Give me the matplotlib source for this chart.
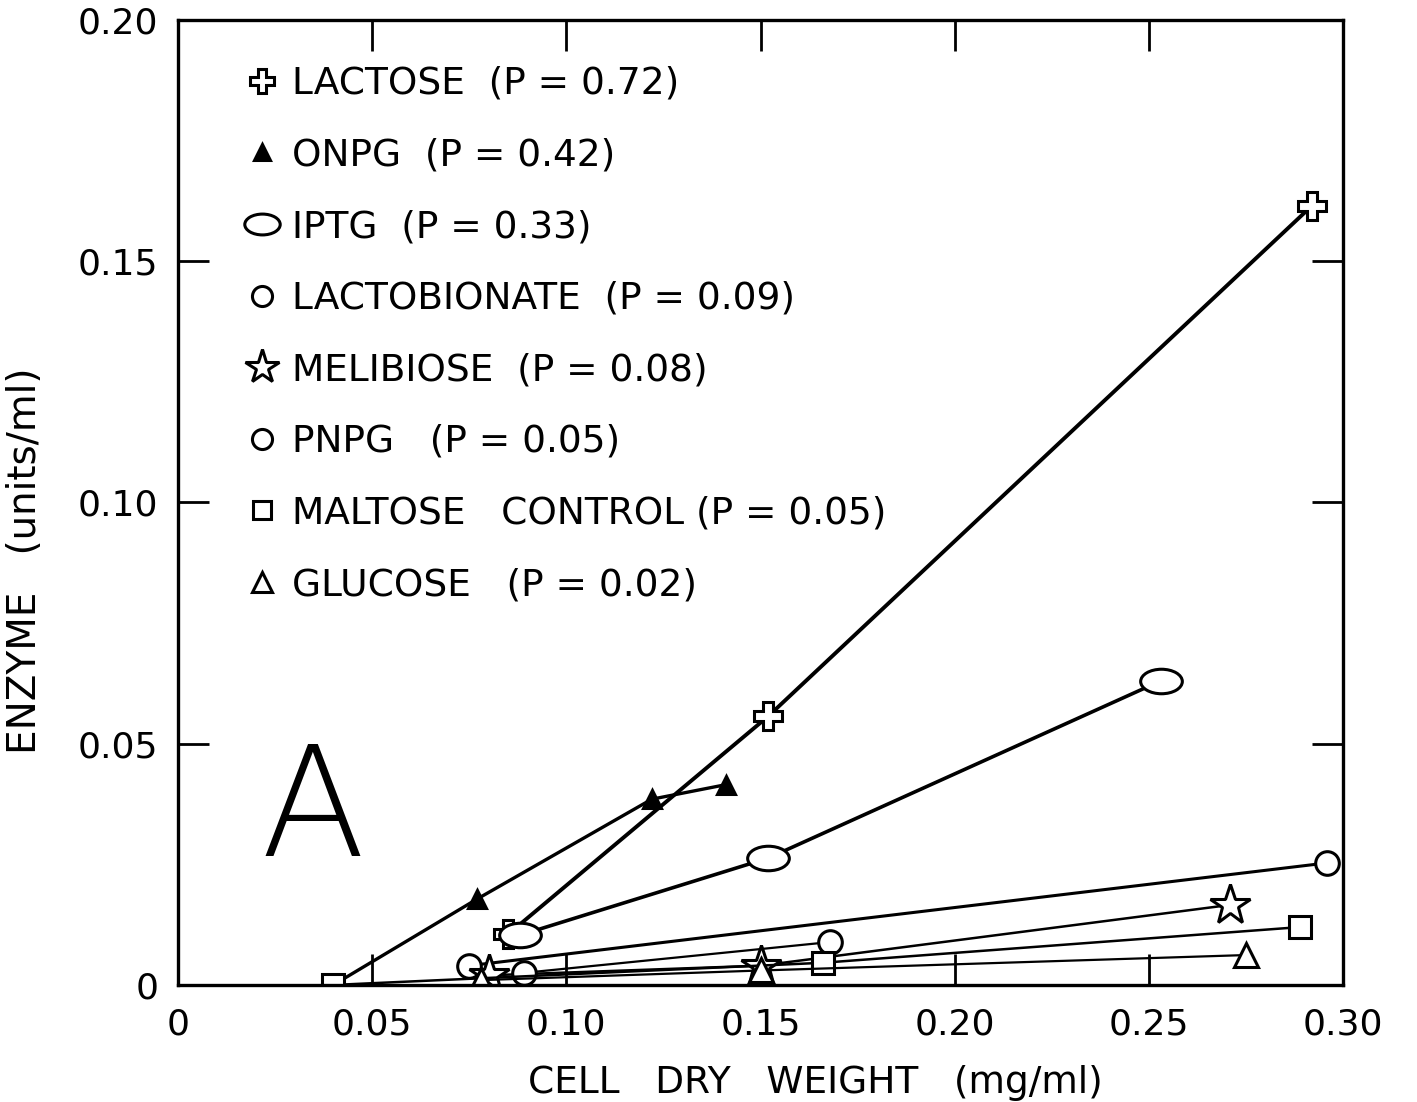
import matplotlib
matplotlib.use("Agg")
import matplotlib.pyplot as plt
from matplotlib.path import Path
from matplotlib.lines import Line2D
import numpy as np

plt.rcParams['font.family'] = ['DejaVu Sans']

# data (cell dry weight mg/ml -> enzyme units/ml)
lactose_x = [0.085, 0.152, 0.292]
lactose_y = [0.0105, 0.0557, 0.1615]

onpg_x = [0.040, 0.077, 0.122, 0.141]
onpg_y = [0.000, 0.0178, 0.0385, 0.0415]

iptg_x = [0.088, 0.152, 0.253]
iptg_y = [0.0103, 0.0263, 0.0630]

lactobionate_x = [0.075, 0.296]
lactobionate_y = [0.0040, 0.0253]

melibiose_x = [0.080, 0.150, 0.271]
melibiose_y = [0.0020, 0.0040, 0.0166]

pnpg_x = [0.089, 0.168]
pnpg_y = [0.0025, 0.0089]

maltose_x = [0.040, 0.166, 0.289]
maltose_y = [0.000, 0.0046, 0.0120]

glucose_x = [0.078, 0.150, 0.275]
glucose_y = [0.0010, 0.0030, 0.0062]

labels = ["LACTOSE  (P = 0.72)",
          "ONPG  (P = 0.42)",
          "IPTG  (P = 0.33)",
          "LACTOBIONATE  (P = 0.09)",
          "MELIBIOSE  (P = 0.08)",
          "PNPG   (P = 0.05)",
          "MALTOSE   CONTROL (P = 0.05)",
          "GLUCOSE   (P = 0.02)"]

x_ticks = [0, 0.05, 0.10, 0.15, 0.20, 0.25, 0.30]
x_ticklabels = ["0", "0.05", "0.10", "0.15", "0.20", "0.25", "0.30"]
y_ticks = [0, 0.05, 0.10, 0.15, 0.20]
y_ticklabels = ["0", "0.05", "0.10", "0.15", "0.20"]

# oval marker for IPTG
circ = Path.unit_circle()
oval = Path(circ.vertices * np.array([1.7, 1.0]), circ.codes)

fig = plt.figure(figsize=(14.17, 11.02), dpi=100)
ax = fig.add_axes([0.1256, 0.1062, 0.8222, 0.8757])

styles = [
    (lactose_x, lactose_y, dict(marker='P', ms=20, lw=2.8)),
    (onpg_x, onpg_y, dict(marker='^', ms=13, lw=2.4, mfc='black')),
    (iptg_x, iptg_y, dict(marker=oval, ms=30, lw=2.6)),
    (lactobionate_x, lactobionate_y, dict(marker='o', ms=17, lw=2.2)),
    (melibiose_x, melibiose_y, dict(marker='*', ms=30, lw=1.8)),
    (pnpg_x, pnpg_y, dict(marker='o', ms=17, lw=1.6)),
    (maltose_x, maltose_y, dict(marker='s', ms=16, lw=1.8)),
    (glucose_x, glucose_y, dict(marker='^', ms=17, lw=1.6)),
]

handles = []
for (xs, ys, st), lab in zip(styles, labels):
    kw = dict(color='black', mfc='white', mec='black', mew=2.2)
    kw.update(st)
    ax.plot(xs, ys, **kw)
    hkw = dict(kw)
    hkw['ms'] = kw['ms'] * 0.85
    handles.append(Line2D([], [], linestyle='none', **{k: v for k, v in hkw.items() if k != 'lw'}))

leg = ax.legend(handles, labels, loc='upper left', bbox_to_anchor=(0.045, 0.968),
                frameon=False, fontsize=27, labelspacing=0.95, handlelength=0.9,
                handletextpad=0.35, borderaxespad=0)

# big panel letter
ax.text(0.0348, 0.0355, "A", fontsize=110, fontweight='light', ha='center', va='center')

ax.set_xlim(0, 0.30)
ax.set_ylim(0, 0.20)
ax.set_xticks(x_ticks)
ax.set_xticklabels(x_ticklabels)
ax.set_yticks(y_ticks)
ax.set_yticklabels(y_ticklabels)
ax.tick_params(direction='in', length=22, width=2, top=True, right=True,
               labelsize=26, pad=14)
ax.tick_params(axis='x', pad=16)
for sp in ax.spines.values():
    sp.set_linewidth(2.4)

ax.set_xlabel("CELL   DRY   WEIGHT   (mg/ml)", fontsize=27)
ax.set_ylabel("ENZYME   (units/ml)", fontsize=28)
ax.xaxis.set_label_coords(0.547, -0.083)
ax.yaxis.set_label_coords(-0.115, 0.44)

fig.savefig("out.png", dpi=100)
